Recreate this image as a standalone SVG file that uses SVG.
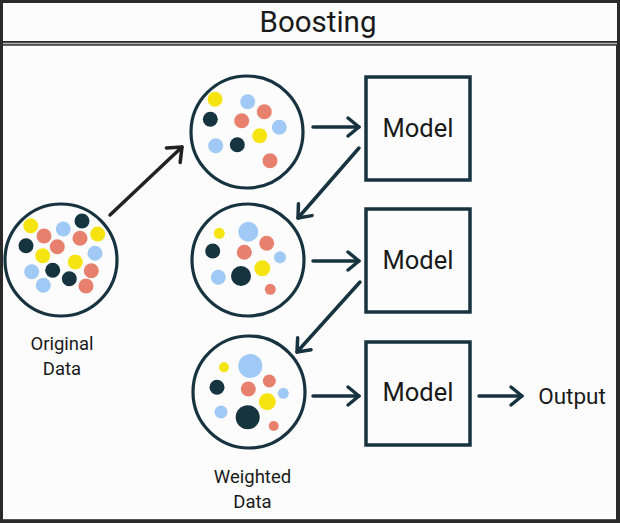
<svg xmlns="http://www.w3.org/2000/svg" width="620" height="523" viewBox="0 0 620 523">
<style>
.lbl{font-family:Roboto,"Liberation Sans",sans-serif;fill:#1a1a1a;text-anchor:middle}
.ring{fill:#fcfcfc;stroke:#173340;stroke-width:3.2}
.box{fill:#fcfcfc;stroke:#173340;stroke-width:3.5}
.y{fill:#f5e40f}.s{fill:#e8806e}.b{fill:#a0caf5}.n{fill:#163340}
.con{fill:none;stroke:#173340;stroke-width:3.5;stroke-linecap:round}
</style>
<defs>
<marker id="ah" markerUnits="userSpaceOnUse" markerWidth="30" markerHeight="30" viewBox="-15 -15 30 30" refX="0" refY="0" orient="auto" overflow="visible">
<path d="M-11,-9 L0,0 L-11,9" fill="none" stroke="#173340" stroke-width="3.5" stroke-linecap="round" stroke-linejoin="round"/>
</marker>
<marker id="ahk" markerUnits="userSpaceOnUse" markerWidth="30" markerHeight="30" viewBox="-15 -15 30 30" refX="0" refY="0" orient="auto" overflow="visible">
<path d="M-12,-10 L0,0 L-12,10" fill="none" stroke="#222" stroke-width="3.5" stroke-linecap="round" stroke-linejoin="round"/>
</marker>
</defs>
<rect x="0" y="0" width="620" height="523" fill="#2a2a2a"/>
<rect x="3" y="3" width="614" height="38" fill="#fcfcfc"/>
<rect x="3" y="42.7" width="614" height="1.6" fill="#b0b0b0"/>
<rect x="3" y="45.7" width="613" height="473.5" fill="#fcfcfc"/>
<g id="title"><text class="lbl" x="318" y="32" font-size="29.5">Boosting</text></g>

<g id="connectors">
<line class="con" x1="110" y1="215" x2="182" y2="147" style="stroke:#222" marker-end="url(#ahk)"/>
<line class="con" x1="313" y1="127" x2="359" y2="127" marker-end="url(#ah)"/>
<line class="con" x1="359" y1="148" x2="298" y2="218" marker-end="url(#ah)"/>
<line class="con" x1="313" y1="261" x2="359" y2="261" marker-end="url(#ah)"/>
<line class="con" x1="360" y1="282" x2="297" y2="352" marker-end="url(#ah)"/>
<line class="con" x1="313" y1="396" x2="359" y2="396" marker-end="url(#ah)"/>
<line class="con" x1="479" y1="396" x2="522" y2="396" marker-end="url(#ah)"/>
</g>

<g id="original">
<circle class="ring" cx="61" cy="260" r="56"/>
<circle class="y" cx="30.7" cy="225.7" r="7.5"/>
<circle class="s" cx="44" cy="236" r="7.5"/>
<circle class="b" cx="63.3" cy="229" r="7.5"/>
<circle class="n" cx="82" cy="221" r="7.5"/>
<circle class="s" cx="80" cy="238.3" r="7.5"/>
<circle class="y" cx="97.7" cy="234" r="7.5"/>
<circle class="n" cx="26" cy="245.7" r="7.5"/>
<circle class="s" cx="57.3" cy="246.7" r="7.5"/>
<circle class="y" cx="42.7" cy="255.7" r="7.5"/>
<circle class="b" cx="95" cy="253.3" r="7.5"/>
<circle class="y" cx="75.3" cy="262" r="7.5"/>
<circle class="b" cx="31.7" cy="271.7" r="7.5"/>
<circle class="n" cx="52.7" cy="270.3" r="7.5"/>
<circle class="n" cx="69.3" cy="278.7" r="7.5"/>
<circle class="s" cx="91.3" cy="270.7" r="7.5"/>
<circle class="b" cx="43.3" cy="285.3" r="7.5"/>
<circle class="s" cx="86" cy="286" r="7.5"/>
<text class="lbl" x="62" y="350" font-size="18.5">Original</text>
<text class="lbl" x="62" y="375" font-size="18.5">Data</text>
</g>

<g id="sample1">
<circle class="ring" cx="247" cy="132" r="56"/>
<circle class="y" cx="215" cy="99.3" r="7.5"/>
<circle class="b" cx="247.7" cy="101.7" r="7.5"/>
<circle class="s" cx="264.3" cy="111.7" r="7.5"/>
<circle class="n" cx="210.3" cy="119.3" r="7.5"/>
<circle class="s" cx="241.7" cy="120.7" r="7.5"/>
<circle class="b" cx="279.3" cy="127.3" r="7.5"/>
<circle class="y" cx="259.7" cy="135.7" r="7.5"/>
<circle class="b" cx="215.7" cy="145.7" r="7.5"/>
<circle class="n" cx="237.3" cy="144.7" r="7.5"/>
<circle class="s" cx="270" cy="160.7" r="7.5"/>
</g>

<g id="sample2">
<circle class="ring" cx="248" cy="260" r="56"/>
<circle class="y" cx="219.3" cy="233.3" r="5.5"/>
<circle class="b" cx="248.3" cy="231.7" r="10"/>
<circle class="s" cx="266.7" cy="243.3" r="7.5"/>
<circle class="n" cx="212.7" cy="251" r="7.5"/>
<circle class="s" cx="244.3" cy="252.3" r="7.5"/>
<circle class="b" cx="280" cy="257.3" r="6"/>
<circle class="y" cx="262.3" cy="268.3" r="8"/>
<circle class="b" cx="218.3" cy="277.3" r="7.5"/>
<circle class="n" cx="241" cy="276" r="10"/>
<circle class="s" cx="270.3" cy="289.3" r="5.5"/>
</g>

<g id="sample3">
<circle class="ring" cx="249" cy="392" r="56"/>
<circle class="y" cx="224" cy="367.3" r="5"/>
<circle class="b" cx="250.3" cy="366" r="12"/>
<circle class="s" cx="269.3" cy="381" r="6.5"/>
<circle class="n" cx="217" cy="387.3" r="7.5"/>
<circle class="s" cx="248.3" cy="389" r="7.5"/>
<circle class="b" cx="283.3" cy="393.3" r="5.5"/>
<circle class="y" cx="267.3" cy="401.7" r="8.5"/>
<circle class="b" cx="221" cy="412" r="6.5"/>
<circle class="n" cx="247.7" cy="417.3" r="12"/>
<circle class="s" cx="273.7" cy="426" r="5"/>
<text class="lbl" x="252.5" y="483" font-size="18.5">Weighted</text>
<text class="lbl" x="252.5" y="508" font-size="18.5">Data</text>
</g>

<g id="model1">
<rect class="box" x="366" y="77" width="104" height="103"/>
<text class="lbl" x="418" y="137" font-size="25.5">Model</text>
</g>
<g id="model2">
<rect class="box" x="366" y="209" width="104" height="103"/>
<text class="lbl" x="418" y="269" font-size="25.5">Model</text>
</g>
<g id="model3">
<rect class="box" x="366" y="342" width="104" height="103"/>
<text class="lbl" x="418" y="401" font-size="25.5">Model</text>
</g>
<g id="output">
<text class="lbl" x="572" y="403.5" font-size="22.5">Output</text>
</g>
</svg>
